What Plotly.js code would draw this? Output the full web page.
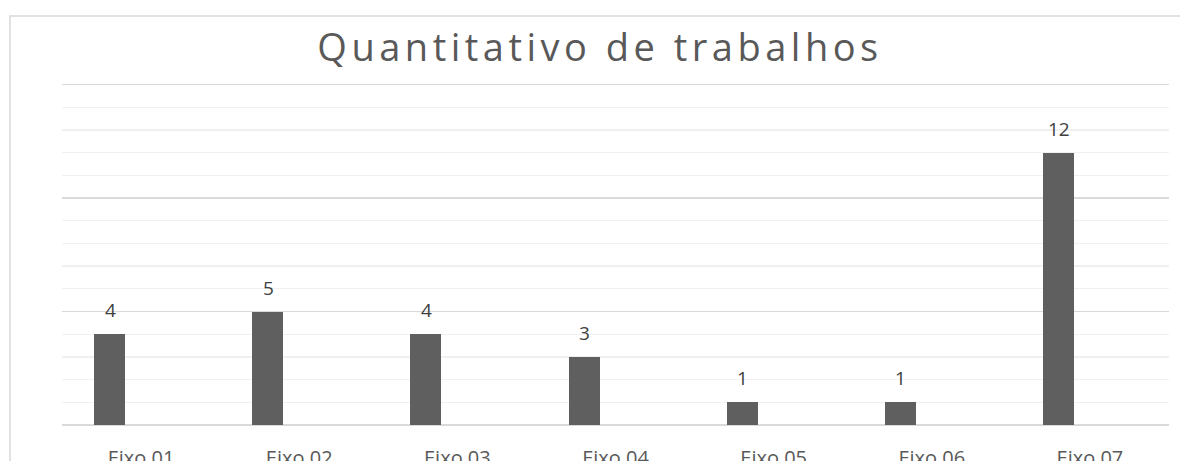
<!DOCTYPE html>
<html>
<head>
<meta charset="utf-8">
<script src="https://cdn.plot.ly/plotly-3.0.1.min.js"></script>
<style>
html,body{margin:0;padding:0;background:#fff;overflow:hidden;}
#chart{width:1180px;height:461px;}
#chart .gtitle{letter-spacing:4.5px;}
</style>
</head>
<body>
<div id="chart"></div>
<script>
const categories = ["Eixo 01","Eixo 02","Eixo 03","Eixo 04","Eixo 05","Eixo 06","Eixo 07"];
const values = [4,5,4,3,1,1,12];
const chartTitle = "Quantitativo de trabalhos";

const FONT = "Open Sans, Noto Sans, sans-serif";
const barOffset = -0.297;
const barWidth = 0.196;

const trace = {
  type: "bar",
  x: categories,
  y: values,
  width: barWidth,
  offset: barOffset,
  marker: {color: "#5f5f5f", line: {width: 0}},
  hoverinfo: "x+y"
};

const annotations = categories.map((c, i) => ({
  x: c, y: values[i], xref: "x", yref: "y",
  text: String(values[i]),
  showarrow: false,
  xanchor: "center", yanchor: "bottom",
  xshift: -31, yshift: 9,
  font: {family: FONT, size: 19, color: "#404040"}
}));

const layout = {
  width: 1180, height: 461,
  margin: {l: 62, r: 11, t: 80, b: 36},
  paper_bgcolor: "#ffffff",
  plot_bgcolor: "#ffffff",
  showlegend: false,
  bargap: 0,
  title: {
    text: chartTitle,
    xref: "container", x: 0.5085, xanchor: "center",
    yref: "container", y: 1 - 34/461, yanchor: "top",
    font: {family: FONT, size: 38, color: "#595959", weight: 400}
  },
  xaxis: {
    type: "category",
    showgrid: false,
    showline: false,
    zeroline: false,
    ticks: "",
    ticklabelstandoff: 19,
    tickfont: {family: FONT, size: 20, color: "#595959"},
    fixedrange: true
  },
  yaxis: {
    range: [0, 15.2],
    dtick: 5,
    showticklabels: false,
    showgrid: true,
    gridcolor: "#d9d9d9",
    gridwidth: 1.3,
    zeroline: true,
    zerolinecolor: "#d9d9d9",
    zerolinewidth: 1.3,
    showline: false,
    ticks: "",
    minor: {dtick: 1, showgrid: true, gridcolor: "#f0f0f0", gridwidth: 1.3},
    fixedrange: true
  },
  shapes: [{
    type: "rect", xref: "paper", yref: "paper",
    x0: -52/1107, x1: 1.2, y0: -0.4, y1: (425 - 16)/345,
    line: {color: "#d9d9d9", width: 1.5},
    fillcolor: "rgba(0,0,0,0)",
    layer: "below"
  }],
  annotations: annotations
};

Plotly.newPlot("chart", [trace], layout, {displayModeBar: false, staticPlot: true});
</script>
</body>
</html>
